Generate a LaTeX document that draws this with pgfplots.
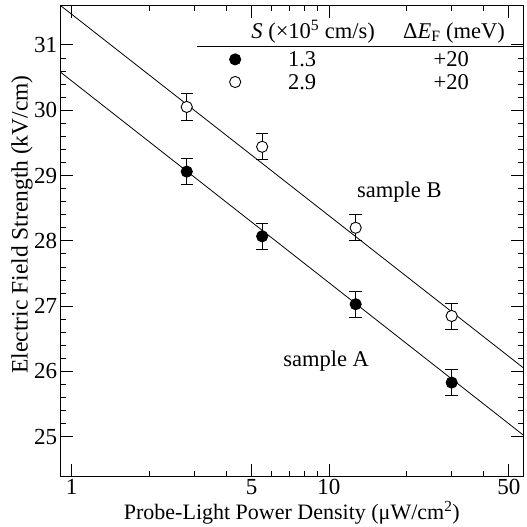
\documentclass[border=0pt]{standalone}
\usepackage{fontspec}
\setmainfont{Liberation Serif}
\usepackage{pgfplots}
\pgfplotsset{compat=1.18}
\begin{document}
\begin{tikzpicture}[font=\fontsize{22.5bp}{26bp}\selectfont]
\begin{axis}[
  scale only axis, width=462.3bp, height=470.3bp,
  xmode=log, xmin=0.906, xmax=56.8, ymin=24.4, ymax=31.6,
  xtick={1,5,10,50}, xticklabels={1,5,10,50},
  minor xtick={2,3,4,6,7,8,9,20,30,40},
  ytick={25,26,27,28,29,30,31}, minor y tick num=4,
  tick align=inside, major tick length=12bp, minor tick length=5.5bp,
  axis line style={line width=1bp},
  every tick/.style={black, line width=0.9bp},
  /pgf/number format/assume math mode=true,
  tick label style={font=\fontsize{23bp}{26bp}\selectfont},
  xlabel={Probe-Light Power Density (μW/cm\textsuperscript{2})},
  ylabel={Electric Field Strength (kV/cm)},
  xlabel style={font=\fontsize{22bp}{26bp}\selectfont, at={(axis description cs:0.5,0)}, anchor=center, yshift=-37bp},
  ylabel style={font=\fontsize{23.5bp}{26bp}\selectfont, at={(axis description cs:-0.0837,0.535)}, anchor=center},
  legend style={at={(axis description cs:0.3586,0.9022)}, anchor=north west,
    draw=none, fill=none, inner sep=0pt, row sep=2.6bp,
    nodes={inner sep=0pt, text height=15bp, text depth=5bp, anchor=base}},
  legend cell align=left,
  legend image code/.code={\path[draw=none, fill=none] (-8.5bp,0.5bp) rectangle (8.5bp,14.5bp);
    \draw[#1, only marks] plot coordinates {(0bp,7.5bp)};},
]
\addplot[black, line width=0.8bp, forget plot] coordinates {(0.906,30.58) (56.8,25.03)};
\addplot[black, line width=0.8bp, forget plot] coordinates {(0.906,31.6) (56.8,26.06)};
\addplot[only marks, mark=*, mark size=5.6bp, mark options={black, fill=black, line width=0.9bp},
  error bars/.cd, y dir=both, y explicit,
  error bar style={line width=0.8bp, black},
  error mark options={rotate=90, mark size=6.2bp, line width=0.8bp, black}]
  coordinates {(2.8,29.06) +- (0,0.2) (5.5,28.07) +- (0,0.2) (12.7,27.03) +- (0,0.2) (30,25.83) +- (0,0.2)};
\addlegendentry{\makebox[117bp][c]{1.3}\makebox[181bp][c]{+20}}
\addplot[only marks, mark=*, mark size=5.6bp, mark options={black, fill=white, line width=0.9bp},
  error bars/.cd, y dir=both, y explicit,
  error bar style={line width=0.8bp, black},
  error mark options={rotate=90, mark size=6.2bp, line width=0.8bp, black}]
  coordinates {(2.8,30.05) +- (0,0.2) (5.5,29.44) +- (0,0.2) (12.7,28.2) +- (0,0.2) (30,26.85) +- (0,0.2)};
\addlegendentry{\makebox[117bp][c]{2.9}\makebox[181bp][c]{+20}}
\node[anchor=base, inner sep=0pt] at (axis description cs:0.5461,0.9307) {\textit{S} (×10\textsuperscript{5} cm/s)};
\node[anchor=base, inner sep=0pt] at (axis description cs:0.8507,0.9307) {Δ\textit{E}\textsubscript{F} (meV)};
\draw[line width=0.9bp] (axis description cs:0.2950,0.9129) -- (axis description cs:1,0.9129);
\node[anchor=base west, inner sep=0pt] at (axis description cs:0.641,0.593) {sample B};
\node[anchor=base west, inner sep=0pt] at (axis description cs:0.481,0.232) {sample A};
\end{axis}
\pgfresetboundingbox
\path ([shift={(-60.7bp,-51bp)}]current axis.south west) rectangle ++(527bp,527bp);
\end{tikzpicture}
\end{document}
